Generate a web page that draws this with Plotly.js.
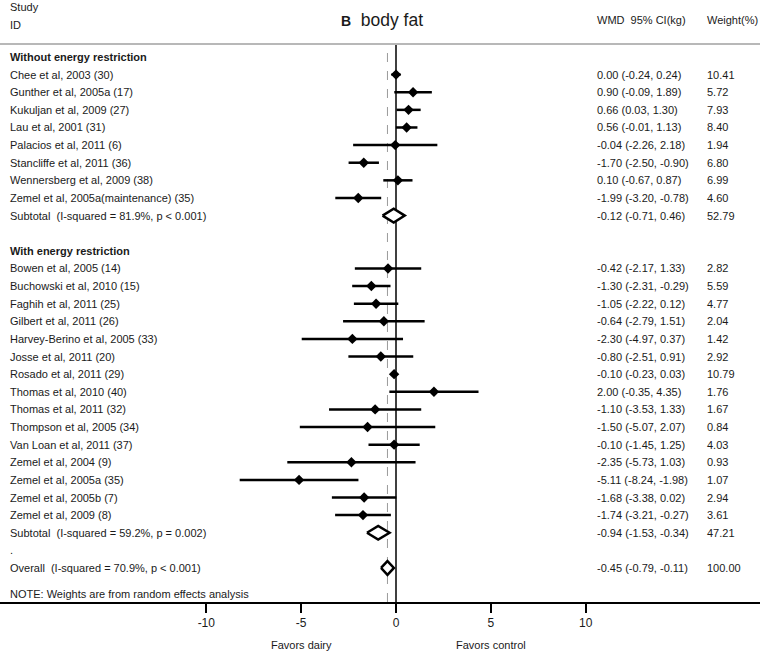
<!DOCTYPE html>
<html>
<head>
<meta charset="utf-8">
<script src="https://cdn.plot.ly/plotly-3.0.1.min.js"></script>
<style>html,body{margin:0;padding:0;background:#fff;}#chart{width:760px;height:652px;}</style>
</head>
<body>
<div id="chart"></div>
<script>
// ---------------- DATA ----------------
const groupLabels = ["Without energy restriction", "With energy restriction"];

const group1Studies = ["Chee et al, 2003 (30)", "Gunther et al, 2005a (17)", "Kukuljan et al, 2009 (27)", "Lau et al, 2001 (31)", "Palacios et al, 2011 (6)", "Stancliffe et al, 2011 (36)", "Wennersberg et al, 2009 (38)", "Zemel et al, 2005a(maintenance) (35)"];
const group1WMD    = [0.00, 0.90, 0.66, 0.56, -0.04, -1.70, 0.10, -1.99];
const group1Low    = [-0.24, -0.09, 0.03, -0.01, -2.26, -2.50, -0.67, -3.20];
const group1High   = [0.24, 1.89, 1.30, 1.13, 2.18, -0.90, 0.87, -0.78];
const group1Weight = [10.41, 5.72, 7.93, 8.40, 1.94, 6.80, 6.99, 4.60];

const group2Studies = ["Bowen et al, 2005 (14)", "Buchowski et al, 2010 (15)", "Faghih et al, 2011 (25)", "Gilbert et al, 2011 (26)", "Harvey-Berino et al, 2005 (33)", "Josse et al, 2011 (20)", "Rosado et al, 2011 (29)", "Thomas et al, 2010 (40)", "Thomas et al, 2011 (32)", "Thompson et al, 2005 (34)", "Van Loan et al, 2011 (37)", "Zemel et al, 2004 (9)", "Zemel et al, 2005a (35)", "Zemel et al, 2005b (7)", "Zemel et al, 2009 (8)"];
const group2WMD    = [-0.42, -1.30, -1.05, -0.64, -2.30, -0.80, -0.10, 2.00, -1.10, -1.50, -0.10, -2.35, -5.11, -1.68, -1.74];
const group2Low    = [-2.17, -2.31, -2.22, -2.79, -4.97, -2.51, -0.23, -0.35, -3.53, -5.07, -1.45, -5.73, -8.24, -3.38, -3.21];
const group2High   = [1.33, -0.29, 0.12, 1.51, 0.37, 0.91, 0.03, 4.35, 1.33, 2.07, 1.25, 1.03, -1.98, 0.02, -0.27];
const group2Weight = [2.82, 5.59, 4.77, 2.04, 1.42, 2.92, 10.79, 1.76, 1.67, 0.84, 4.03, 0.93, 1.07, 2.94, 3.61];

const subtotalLabels = ["Subtotal  (I-squared = 81.9%, p < 0.001)", "Subtotal  (I-squared = 59.2%, p = 0.002)"];
const subtotalWMD    = [-0.12, -0.94];
const subtotalLow    = [-0.71, -1.53];
const subtotalHigh   = [0.46, -0.34];
const subtotalWeight = [52.79, 47.21];

const overallLabel  = "Overall  (I-squared = 70.9%, p < 0.001)";
const overallWMD    = -0.45;
const overallLow    = -0.79;
const overallHigh   = -0.11;
const overallWeight = 100.00;

const xTickVals = [-10, -5, 0, 5, 10];
const noteText = "NOTE: Weights are from random effects analysis";

// ---------------- LAYOUT HELPERS ----------------
const W = 760, H = 652, MB = 50;
const plotH = H - MB;          // plot area height (top margin 0)
const rowTop = 57, rowH = 17.62; // pixel of row 0, pixel per row
const pxPerUnit = 18.97, zeroPx = 396;
const FONT = "Liberation Sans, Arial, sans-serif";
const TXT = "#1a1a1a";
const nb = s => s.replace(/  /g, "\u00a0\u00a0");
const fmt = v => v.toFixed(2);
const pyPaper = px => (plotH - px) / plotH;

const studyGroups = [
  {names: group1Studies, wmd: group1WMD, lo: group1Low, hi: group1High, w: group1Weight},
  {names: group2Studies, wmd: group2WMD, lo: group2Low, hi: group2High, w: group2Weight}
];

const annotations = [];
const ptX = [], ptY = [], ptPlus = [], ptMinus = [];
const diamonds = [];
const COL_LABEL = 8 / W, COL_WMD = 595 / W, COL_W = 705 / W;

function rowText(k, label, bold, wmd, lo, hi, w) {
  annotations.push({xref: "paper", yref: "y", x: COL_LABEL, y: k, xanchor: "left", yanchor: "middle",
    text: bold ? "<b>" + nb(label) + "</b>" : nb(label), showarrow: false,
    font: {family: FONT, size: 11, color: TXT}});
  if (wmd !== undefined) {
    annotations.push({xref: "paper", yref: "y", x: COL_WMD, y: k, xanchor: "left", yanchor: "middle",
      text: fmt(wmd) + " (" + fmt(lo) + ", " + fmt(hi) + ")", showarrow: false,
      font: {family: FONT, size: 11, color: TXT}});
    annotations.push({xref: "paper", yref: "y", x: COL_W, y: k, xanchor: "left", yanchor: "middle",
      text: fmt(w), showarrow: false, font: {family: FONT, size: 11, color: TXT}});
  }
}

let k = 0;
studyGroups.forEach((g, gi) => {
  rowText(k, groupLabels[gi], true);
  k++;
  g.names.forEach((n, i) => {
    rowText(k, n, false, g.wmd[i], g.lo[i], g.hi[i], g.w[i]);
    ptX.push(g.wmd[i]); ptY.push(k);
    ptPlus.push(g.hi[i] - g.wmd[i]); ptMinus.push(g.wmd[i] - g.lo[i]);
    k++;
  });
  rowText(k, subtotalLabels[gi], false, subtotalWMD[gi], subtotalLow[gi], subtotalHigh[gi], subtotalWeight[gi]);
  diamonds.push({k: k, est: subtotalWMD[gi], lo: subtotalLow[gi], hi: subtotalHigh[gi]});
  k++;
  if (gi === 0) k++; // blank row between groups
});
rowText(k, ".", false); k++;
rowText(k, overallLabel, false, overallWMD, overallLow, overallHigh, overallWeight);
diamonds.push({k: k, est: overallWMD, lo: overallLow, hi: overallHigh});
k += 1.5;
rowText(k, noteText, false);

const traces = [];
const dh = 0.39;
diamonds.forEach(d => {
  traces.push({type: "scatter", mode: "lines", x: [d.lo, d.est, d.hi, d.est, d.lo],
    y: [d.k, d.k - dh, d.k, d.k + dh, d.k], fill: "toself", fillcolor: "#ffffff",
    line: {color: "#000", width: 2.5}, hoverinfo: "skip"});
});
traces.push({type: "scatter", mode: "markers", x: ptX, y: ptY,
  marker: {symbol: "diamond", size: 8, color: "#000"},
  error_x: {type: "data", symmetric: false, array: ptPlus, arrayminus: ptMinus,
    thickness: 2.5, width: 0, color: "#000"}, hoverinfo: "skip"});

// header annotations
annotations.push({xref: "paper", yref: "paper", x: COL_LABEL, y: pyPaper(7), xanchor: "left", yanchor: "middle",
  text: "Study", showarrow: false, font: {family: FONT, size: 11, color: TXT}});
annotations.push({xref: "paper", yref: "paper", x: COL_LABEL, y: pyPaper(25), xanchor: "left", yanchor: "middle",
  text: "ID", showarrow: false, font: {family: FONT, size: 11, color: TXT}});
annotations.push({xref: "paper", yref: "paper", x: COL_WMD, y: pyPaper(20), xanchor: "left", yanchor: "middle",
  text: "WMD\u00a0\u00a095% CI(kg)", showarrow: false, font: {family: FONT, size: 11, color: TXT}});
annotations.push({xref: "paper", yref: "paper", x: COL_W, y: pyPaper(20), xanchor: "left", yanchor: "middle",
  text: "Weight(%)", showarrow: false, font: {family: FONT, size: 11, color: TXT}});
annotations.push({xref: "x", yref: "paper", x: -5, y: pyPaper(645), xanchor: "center", yanchor: "middle",
  text: "Favors dairy", showarrow: false, font: {family: FONT, size: 11, color: TXT}});
annotations.push({xref: "x", yref: "paper", x: 5, y: pyPaper(645), xanchor: "center", yanchor: "middle",
  text: "Favors control", showarrow: false, font: {family: FONT, size: 11, color: TXT}});

const xMin = -zeroPx / pxPerUnit, xMax = (W - zeroPx) / pxPerUnit;
const yMax = (plotH - rowTop) / rowH, yMin = -rowTop / rowH;

const layout = {
  width: W, height: H,
  margin: {l: 0, r: 0, t: 0, b: MB, pad: 0},
  paper_bgcolor: "#fff", plot_bgcolor: "#fff",
  showlegend: false,
  title: {text: "<span style='font-size:14px'><b>B</b></span>\u00a0\u00a0body fat",
    x: 382 / W, xanchor: "center", xref: "paper", y: 1 - 20 / H, yanchor: "middle", yref: "container",
    font: {family: FONT, size: 17.5, color: TXT}},
  xaxis: {range: [xMin, xMax], tickvals: xTickVals, ticktext: xTickVals.map(String),
    showgrid: false, zeroline: false, showline: true, linecolor: "#000", linewidth: 1.5,
    ticks: "outside", ticklen: 9, tickwidth: 2, tickcolor: "#000",
    tickfont: {family: FONT, size: 12, color: TXT}, fixedrange: true},
  yaxis: {range: [yMax, yMin], visible: false, showgrid: false, zeroline: false, fixedrange: true},
  shapes: [
    {type: "line", xref: "paper", yref: "paper", x0: 0, x1: 1, y0: pyPaper(44), y1: pyPaper(44),
      line: {color: "#a0a0a0", width: 1.5}, layer: "below"},
    {type: "line", xref: "x", yref: "paper", x0: 0, x1: 0, y0: 0, y1: pyPaper(45),
      line: {color: "#000", width: 1.5}, layer: "below"},
    {type: "line", xref: "x", yref: "paper", x0: overallWMD, x1: overallWMD, y0: 0, y1: pyPaper(45),
      line: {color: "#9a9a9a", width: 1, dash: "dash"}, layer: "below"}
  ],
  annotations: annotations
};

Plotly.newPlot("chart", traces, layout, {displayModeBar: false, staticPlot: true});
</script>
</body>
</html>
